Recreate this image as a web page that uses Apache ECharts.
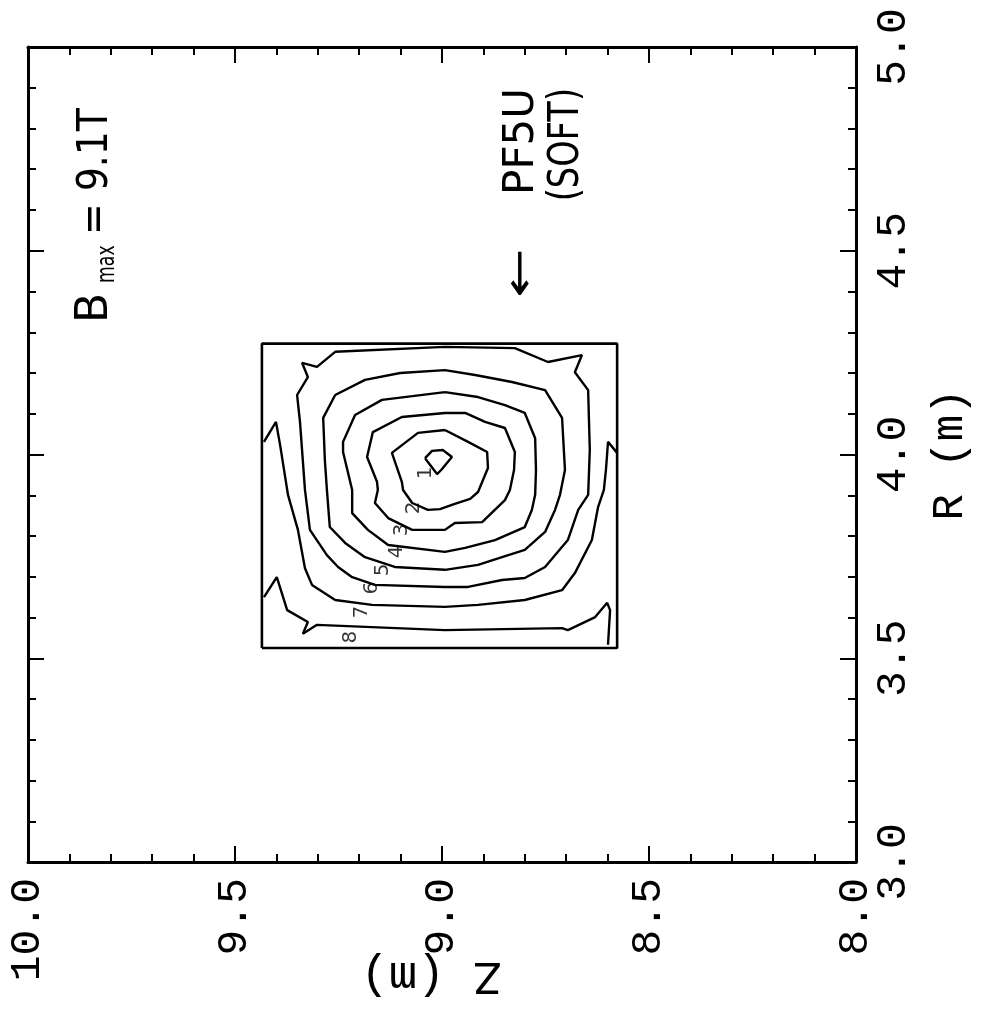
<!DOCTYPE html>
<html><head><meta charset="utf-8">
<script src="https://cdn.jsdelivr.net/npm/echarts@6/dist/echarts.min.js"></script>
<style>html,body{margin:0;padding:0;background:#fff}#c{width:992px;height:1024px}</style>
</head><body><div id="c"></div>
<script>
// Axis ranges / ticks
const zRange = [8.0, 10.0];
const rRange = [3.0, 5.0];
const tickStep = 0.5;

// Coil cross-section (PF5U)
const coilZ = [9.435, 8.577];
const coilR = [3.525, 4.272];

// Contour lines of |B| in (Z, R)
const contour1 = [[9.041,3.991],[9.024,4.009],[8.998,4.011],[8.976,3.994],[9.002,3.962],[9.012,3.952],[9.041,3.991]];
const contour2 = [[8.993,4.060],[8.937,4.031],[8.891,4.006],[8.889,3.967],[8.913,3.908],[8.932,3.891],[8.969,3.879],[9.005,3.866],[9.034,3.864],[9.072,3.881],[9.094,3.913],[9.097,3.933],[9.121,4.004],[9.058,4.053],[8.993,4.060]];
const contour3 = [[8.993,4.102],[8.944,4.102],[8.896,4.080],[8.848,4.065],[8.824,4.006],[8.826,3.962],[8.836,3.913],[8.848,3.888],[8.903,3.834],[8.969,3.832],[8.993,3.815],[9.072,3.815],[9.130,3.844],[9.162,3.881],[9.155,3.913],[9.157,3.933],[9.181,3.994],[9.167,4.055],[9.097,4.092],[8.993,4.102]];
const contour4 = [[8.993,4.153],[8.913,4.141],[8.848,4.121],[8.800,4.102],[8.775,4.040],[8.773,3.962],[8.775,3.901],[8.783,3.864],[8.800,3.822],[8.872,3.790],[8.944,3.771],[8.993,3.761],[9.130,3.778],[9.179,3.815],[9.217,3.856],[9.217,3.913],[9.239,4.006],[9.239,4.031],[9.210,4.097],[9.145,4.134],[8.993,4.153]];
const contour5 = [[9.101,4.200],[8.993,4.207],[8.920,4.195],[8.831,4.178],[8.751,4.158],[8.710,4.090],[8.703,3.962],[8.715,3.901],[8.727,3.864],[8.751,3.810],[8.800,3.766],[8.855,3.748],[8.913,3.729],[8.993,3.717],[9.114,3.724],[9.186,3.748],[9.234,3.783],[9.271,3.822],[9.278,3.913],[9.283,3.987],[9.287,4.090],[9.258,4.146],[9.186,4.183],[9.101,4.200]];
const contour6 = [[8.993,4.264],[8.824,4.261],[8.744,4.227],[8.662,4.244],[8.679,4.202],[8.647,4.158],[8.643,4.011],[8.647,3.901],[8.671,3.864],[8.696,3.790],[8.751,3.724],[8.800,3.697],[8.855,3.692],[8.937,3.675],[8.993,3.675],[9.162,3.680],[9.217,3.699],[9.251,3.724],[9.278,3.753],[9.319,3.815],[9.331,3.913],[9.343,4.080],[9.350,4.146],[9.324,4.190],[9.338,4.225],[9.302,4.215],[9.258,4.252],[8.993,4.264]];
const contour7 = [[9.430,4.031],[9.401,4.080],[9.391,4.023],[9.372,3.901],[9.348,3.815],[9.331,3.721],[9.314,3.680],[9.258,3.643],[9.169,3.631],[8.993,3.626],[8.913,3.631],[8.800,3.643],[8.710,3.667],[8.679,3.709],[8.638,3.790],[8.623,3.871],[8.609,3.913],[8.604,3.962],[8.599,4.031],[8.577,4.004]];
const contour8 = [[9.430,3.650],[9.399,3.699],[9.374,3.618],[9.324,3.589],[9.336,3.560],[9.302,3.582],[8.993,3.569],[8.710,3.574],[8.696,3.569],[8.630,3.601],[8.601,3.636],[8.594,3.618],[8.599,3.533]];

// Contour level labels and where they sit
const levelNames = ['1','2','3','4','5','6','7','8'];
const levelLabelZ = [9.039, 9.068, 9.097, 9.109, 9.143, 9.169, 9.193, 9.220];
const levelLabelR = [3.955, 3.869, 3.815, 3.761, 3.717, 3.672, 3.613, 3.552];

const contours = [contour1, contour2, contour3, contour4, contour5, contour6, contour7, contour8];

const FONT = "'DejaVu Sans', 'Liberation Sans', sans-serif";
const MONO = "'Liberation Mono', 'DejaVu Sans Mono', monospace";
const chart = echarts.init(document.getElementById('c'), null, {renderer: 'canvas'});

function axisBase(showLabel, rotate) {
  return {
    type: 'value', interval: tickStep,
    axisLine: {show: true, lineStyle: {color: '#000', width: 3}},
    axisTick: {show: true, inside: true, length: 16, lineStyle: {color: '#000', width: 2}},
    minorTick: {show: true, splitNumber: 5, length: 8, lineStyle: {color: '#000', width: 2}},
    splitLine: {show: false}, minorSplitLine: {show: false},
    axisLabel: {show: showLabel, rotate: rotate, margin: 16, fontSize: 43, color: '#000', fontFamily: MONO,
      formatter: v => v.toFixed(1)}
  };
}

const series = contours.map(c => ({
  type: 'line', data: c, xAxisIndex: 0, yAxisIndex: 0, showSymbol: false, symbol: 'none',
  lineStyle: {color: '#000', width: 2.4}, silent: true, z: 3
}));
series.push({
  type: 'line', xAxisIndex: 0, yAxisIndex: 0, symbol: 'none', silent: true, z: 3,
  lineStyle: {color: '#000', width: 2.6},
  data: [[coilZ[0], coilR[0]], [coilZ[0], coilR[1]], [coilZ[1], coilR[1]], [coilZ[1], coilR[0]], [coilZ[0], coilR[0]]]
});
series.push({
  type: 'scatter', xAxisIndex: 0, yAxisIndex: 0, symbolSize: 0, silent: true, z: 5,
  data: levelNames.map((n, i) => [levelLabelZ[i], levelLabelR[i], n]),
  label: {show: true, position: 'inside', rotate: 90, fontSize: 20, color: '#000', fontFamily: FONT,
    formatter: p => p.value[2]}
});

const xBottom = Object.assign(axisBase(true, 90), {
  position: 'bottom', min: zRange[0], max: zRange[1], inverse: true,
  name: 'Z (m)', nameLocation: 'middle', nameRotate: 180, nameGap: 90, nameMoveOverlap: false,
  nameTextStyle: {fontSize: 47, color: '#000', fontFamily: MONO, padding: [0, 0, 0, 22]}
});
const xTop = Object.assign(axisBase(false, 0), {position: 'top', min: zRange[0], max: zRange[1], inverse: true});
const yRight = Object.assign(axisBase(true, 90), {
  position: 'right', min: rRange[0], max: rRange[1],
  name: 'R (m)', nameLocation: 'middle', nameRotate: 90, nameGap: 72, nameMoveOverlap: false,
  nameTextStyle: {fontSize: 44, color: '#000', fontFamily: MONO}
});
const yLeft = Object.assign(axisBase(false, 0), {position: 'left', min: rRange[0], max: rRange[1]});

chart.setOption({
  animation: false,
  backgroundColor: '#fff',
  grid: {left: 28, right: 136, top: 47, bottom: 162, containLabel: false, outerBoundsMode: 'none'},
  xAxis: [xBottom, xTop],
  yAxis: [yRight, yLeft],
  series: series,
  graphic: [
    {type: 'group', x: 96, y: 323, rotation: Math.PI / 2, children: [
      {type: 'text', x: 0, y: 0, style: {text: 'B', fontSize: 44, fontFamily: FONT, fill: '#000', align: 'left', verticalAlign: 'middle'}},
      {type: 'text', x: 40, y: 12, scaleX: 0.72, style: {text: 'max', fontSize: 24, fontFamily: FONT, fill: '#000', align: 'left', verticalAlign: 'middle'}},
      {type: 'text', x: 88, y: 0, scaleX: 0.9, style: {text: '= 9.1T', fontSize: 42, fontFamily: FONT, fill: '#000', align: 'left', verticalAlign: 'middle'}}
    ]},
    {type: 'group', x: 522, y: 88, rotation: Math.PI / 2, children: [
      {type: 'text', x: 0, y: 0, style: {text: 'PF5U', fontSize: 42, fontFamily: FONT, fill: '#000', align: 'right', verticalAlign: 'middle'}},
      {type: 'text', x: -185, y: 0, scaleX: 1.4, style: {text: '←', fontSize: 42, fontFamily: FONT, fill: '#000', align: 'center', verticalAlign: 'middle'}},
      {type: 'text', x: 0, y: 45, scaleX: 0.8, style: {text: '(SOFT)', fontSize: 42, fontFamily: FONT, fill: '#000', align: 'right', verticalAlign: 'middle'}}
    ]}
  ]
});
</script></body></html>
